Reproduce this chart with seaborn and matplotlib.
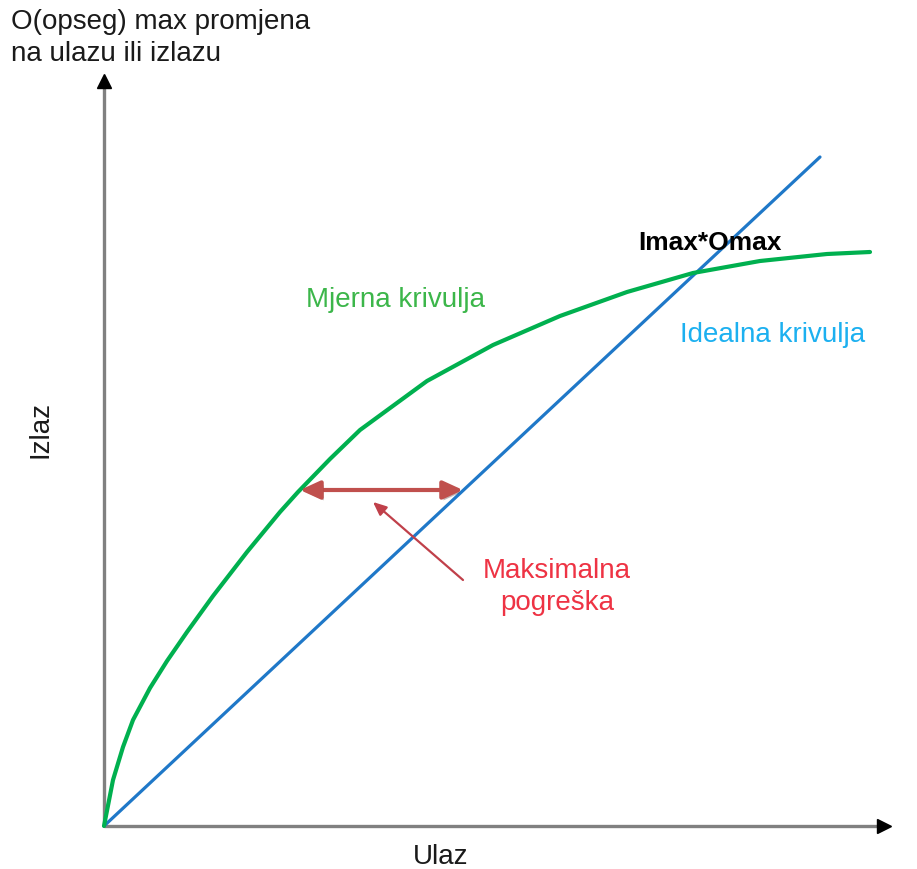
import numpy as np
import pandas as pd
import matplotlib
matplotlib.use("Agg")
import matplotlib.pyplot as plt
import matplotlib.patheffects as pe
import seaborn as sns

# data (units: input / output, origin at axis corner)
ideal_x = [0, 716]
ideal_y = [0, 669]

meas_x = [0, 9, 19, 29, 46, 63, 83, 109, 143, 176, 194, 226, 256,
          323, 389, 456, 523, 589, 656, 723, 766]
meas_y = [0, 46, 79, 106, 138, 165, 194, 230, 274, 314, 334, 367, 396,
          445, 481, 510, 534, 553, 565, 572, 574]

err_y = 336
err_x = [196, 359]          # green curve -> ideal line
pointer = [(359, 246), (269, 324)]  # label -> error arrow

x_axis_end = 786
y_axis_end = 751

sns.set_style("white")
plt.rcParams['font.family'] = ['Liberation Sans', 'DejaVu Sans']

fig = plt.figure(figsize=(9.17, 8.69), dpi=100)
ax = fig.add_axes([0, 0, 1, 1])

# axes with arrow heads
ax.plot([0, x_axis_end - 8], [0, 0], color="#808080", lw=2.4, solid_capstyle="butt", zorder=1)
ax.plot([0, 0], [0, y_axis_end - 8], color="#808080", lw=2.4, solid_capstyle="butt", zorder=1)
ax.plot([x_axis_end - 6], [0], marker=">", color="black", ms=10, zorder=2)
ax.plot([0], [y_axis_end - 6], marker="^", color="black", ms=10, zorder=2)

ideal = pd.DataFrame({"x": ideal_x, "y": ideal_y})
meas = pd.DataFrame({"x": meas_x, "y": meas_y})
sns.lineplot(data=ideal, x="x", y="y", color="#1f78c8", lw=2.3, ax=ax, zorder=3)
sns.lineplot(data=meas, x="x", y="y", color="#00b04f", lw=3.0, ax=ax, zorder=3,
             sort=False, solid_joinstyle="round")
ax.set_xlim(-104, 813)
ax.set_ylim(-43, 826)
ax.axis("off")

shadow = [pe.SimplePatchShadow(offset=(1.5, -2), alpha=0.3), pe.Normal()]
ax.annotate("", xy=(err_x[1], err_y), xytext=(err_x[0], err_y),
            arrowprops=dict(arrowstyle="<|-|>,head_length=1.2,head_width=0.55",
                            color="#c0504d", lw=3, shrinkA=0, shrinkB=0,
                            path_effects=shadow), zorder=4)
ax.annotate("", xy=pointer[1], xytext=pointer[0],
            arrowprops=dict(arrowstyle="-|>,head_length=0.8,head_width=0.35",
                            color="#c0404a", lw=1.6, shrinkA=0, shrinkB=0), zorder=4)

# labels
ax.text(-93, 817, "O(opseg) max promjena\nna ulazu ili izlazu", fontsize=20,
        color="#1a1a1a", va="top", ha="left", linespacing=1.3)
ax.text(-64, 396, "Izlaz", fontsize=20, rotation=90, ha="center", va="center", color="#1a1a1a")
ax.text(337, -31, "Ulaz", fontsize=20, ha="center", va="center", color="#1a1a1a")
ax.text(291, 526, "Mjerna krivulja", fontsize=20, ha="center", va="center", color="#3cb64a")
ax.text(669, 491, "Idealna krivulja", fontsize=20, ha="center", va="center", color="#1cb0f0")
ax.text(606, 583, "Imax*Omax", fontsize=19, fontweight="bold", ha="center", va="center", color="black")
ax.text(453, 239, "Maksimalna\npogreška", fontsize=20, ha="center", va="center",
        color="#ee3344", linespacing=1.3)

fig.savefig("out.png", dpi=100, facecolor="white")
